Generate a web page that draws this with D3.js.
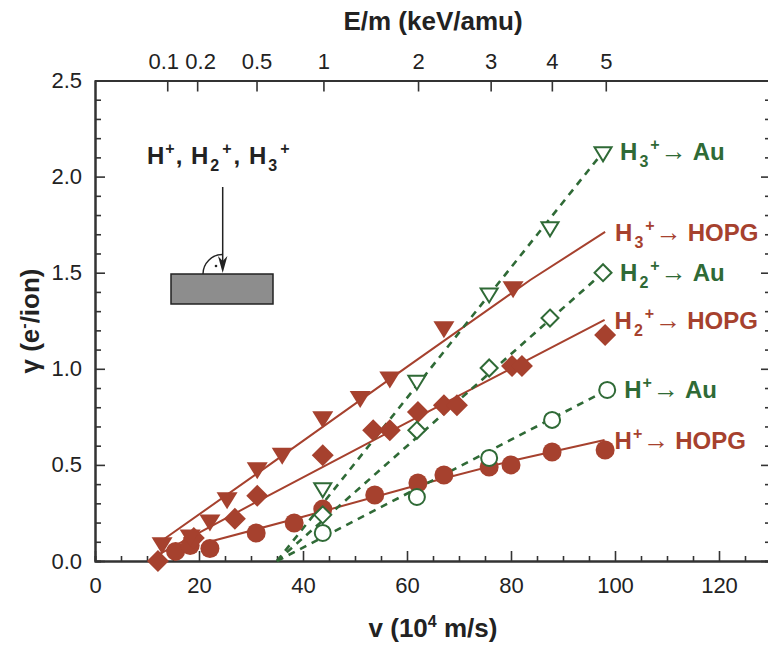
<!DOCTYPE html>
<html lang="en">
<head>
<meta charset="utf-8">
<title>Electron yield</title>
<script src="https://cdn.jsdelivr.net/npm/d3@7"></script>
<style>
  body { margin: 0; background: #fff; }
  svg { display: block; font-family: "Liberation Sans", Arial, sans-serif; }
  .axis path, .axis line { stroke: #333; }
  .axis path { stroke-width: 2; }
  .axis line { stroke-width: 1.6; }
  .axis text { font-size: 22px; fill: #222; }
</style>
</head>
<body>
<svg width="768" height="648"></svg>
<script>
// --- data: [v (10^4 m/s), gamma (e-/ion)] ---
var h1HopgPts = [[15.5,0.05],[18.3,0.08],[22.1,0.065],[31,0.146],[38.3,0.198],[43.8,0.27],[53.8,0.343],[62.1,0.406],[67.1,0.447],[75.8,0.489],[80,0.5],[87.9,0.567],[98.1,0.578]];
var h1HopgFit = [[22,0.10],[40,0.23],[60,0.38],[80,0.52],[98,0.63]];
var h1AuPts = [[43.8,0.146],[61.9,0.333],[75.8,0.536],[87.9,0.734],[98.5,0.89]];
var h1AuFit = [[35,0],[98.5,0.89]];

var h2HopgPts = [[12.1,0.0],[19,0.12],[26.9,0.22],[31.2,0.34],[43.8,0.55],[53.5,0.68],[56.7,0.68],[62.1,0.775],[67.1,0.81],[69.6,0.81],[80.2,1.015],[82.1,1.015],[98.1,1.176]];
var h2HopgFit = [[12,0.03],[31.7,0.317],[60,0.72],[98,1.255]];
var h2AuPts = [[43.8,0.24],[61.9,0.68],[75.8,1.004],[87.5,1.264],[97.7,1.5]];
var h2AuFit = [[35,0],[97.7,1.5]];

var h3HopgPts = [[12.9,0.094],[18.3,0.135],[22.1,0.213],[25.4,0.328],[31.2,0.484],[36,0.56],[43.8,0.75],[51,0.855],[56.7,0.957],[67.1,1.218],[80.4,1.426]];
var h3HopgFit = [[12,0.09],[31.7,0.465],[60,1.01],[83.7,1.462],[98.1,1.712]];
var h3AuPts = [[43.8,0.38],[61.9,0.94],[75.8,1.394],[87.5,1.738],[97.7,2.128]];
var h3AuFit = [[35,0],[97.7,2.128]];

// axis ticks
var vTicks = [0, 20, 40, 60, 80, 100, 120];
var gTicks = [0, 0.5, 1.0, 1.5, 2.0, 2.5];
var eTicks = [0.1, 0.2, 0.5, 1, 2, 3, 4, 5];   // E/m in keV/amu on the top axis

var brown = "#a6412e";
var green = "#2f6a36";

var svg = d3.select("svg");
var x = d3.scaleLinear().domain([0, 130]).range([95, 771]);
var y = d3.scaleLinear().domain([0, 2.5]).range([561, 80.5]);

// v (10^4 m/s) = sqrt(2 E/m) for E/m in keV/amu
function eToV(e) { return Math.sqrt(2 * e * 1.602177e-16 / 1.660539e-27) / 1e4; }

// ---------- axes ----------
var minorV = d3.range(0, 131, 5).filter(function (d) { return d % 20 != 0; });
var minorG = d3.range(0, 2.51, 0.1).filter(function (d) { return Math.abs(d * 2 - Math.round(d * 2)) > 0.01; });

svg.append("g").attr("class", "axis").attr("transform", "translate(0," + y(0) + ")")
    .call(d3.axisBottom(x).tickValues(minorV).tickSize(-5).tickFormat(""));
svg.append("g").attr("class", "axis").attr("transform", "translate(0," + y(0) + ")")
    .call(d3.axisBottom(x).tickValues(vTicks).tickSize(-10).tickSizeOuter(0).tickPadding(16).tickFormat(d3.format("d")));

svg.append("g").attr("class", "axis").attr("transform", "translate(" + x(0) + ",0)")
    .call(d3.axisLeft(y).tickValues(minorG).tickSize(-6).tickFormat(""));
svg.append("g").attr("class", "axis").attr("transform", "translate(" + x(0) + ",0)")
    .call(d3.axisLeft(y).tickValues(gTicks).tickSize(-10).tickSizeOuter(0).tickPadding(13).tickFormat(d3.format(".1f")));

svg.append("g").attr("class", "axis").attr("transform", "translate(" + x(130) + ",0)")
    .call(d3.axisRight(y).tickValues(minorG).tickSize(-6).tickFormat(""));
svg.append("g").attr("class", "axis").attr("transform", "translate(" + x(130) + ",0)")
    .call(d3.axisRight(y).tickValues(gTicks).tickSize(-10).tickSizeOuter(0).tickFormat(""));

var topAxis = svg.append("g").attr("class", "axis").attr("transform", "translate(0," + y(2.5) + ")")
    .call(d3.axisTop(x).tickValues(eTicks.map(eToV)).tickSize(-11).tickSizeOuter(0).tickPadding(12)
        .tickFormat(function (d, i) { return eTicks[i]; }));
// nudge the two crowded labels apart
topAxis.selectAll(".tick text").attr("dx", function (d, i) { return i == 0 ? -4 : (i == 1 ? 3 : 0); });

// axis titles
svg.append("text").attr("x", 433).attr("y", 30).attr("text-anchor", "middle")
    .style("font-size", "26px").style("font-weight", "bold").attr("fill", "#222").text("E/m (keV/amu)");

var xt = svg.append("text").attr("x", 433).attr("y", 637).attr("text-anchor", "middle")
    .style("font-size", "26px").style("font-weight", "bold").attr("fill", "#222");
xt.append("tspan").text("v (10");
xt.append("tspan").attr("dy", -10).style("font-size", "16px").text("4");
xt.append("tspan").attr("dy", 10).text(" m/s)");

var yt = svg.append("text").attr("transform", "translate(39,321) rotate(-90)").attr("text-anchor", "middle")
    .style("font-size", "26px").style("font-weight", "bold").attr("fill", "#222");
yt.append("tspan").text("γ (e");
yt.append("tspan").attr("dy", -10).style("font-size", "16px").text("-");
yt.append("tspan").attr("dy", 10).text("/ion)");

// ---------- inset sketch ----------
var inset = svg.append("g");
var it = inset.append("text").attr("x", 147).attr("y", 164)
    .style("font-size", "24px").style("font-weight", "bold").style("letter-spacing", "1px").attr("fill", "#222");
it.append("tspan").text("H");
it.append("tspan").attr("dy", -10).style("font-size", "16px").text("+");
it.append("tspan").attr("dy", 10).text(", H");
it.append("tspan").attr("dy", 7).attr("dx", 1).style("font-size", "16px").text("2");
it.append("tspan").attr("dy", -17).attr("dx", 2).style("font-size", "16px").text("+");
it.append("tspan").attr("dy", 10).attr("dx", 1).text(", H");
it.append("tspan").attr("dy", 7).attr("dx", 1).style("font-size", "16px").text("3");
it.append("tspan").attr("dy", -17).attr("dx", 2).style("font-size", "16px").text("+");

inset.append("rect").attr("x", 171).attr("y", 274).attr("width", 102).attr("height", 30)
    .attr("fill", "#8d8d8d").attr("stroke", "#222").attr("stroke-width", 1.5);
inset.append("line").attr("x1", 222.7).attr("x2", 222.7).attr("y1", 187).attr("y2", 268)
    .attr("stroke", "#222").attr("stroke-width", 1.5);
inset.append("path").attr("d", "M218,256 L222.7,273 L227.4,256 L222.7,261 Z").attr("fill", "#222");
inset.append("path").attr("d", "M203,274 A19.5,19.5 0 0 1 222.7,254.5")
    .attr("fill", "none").attr("stroke", "#222").attr("stroke-width", 1.4);
inset.append("circle").attr("cx", 216).attr("cy", 266).attr("r", 1.3).attr("fill", "#222");

// ---------- series ----------
var line = d3.line().x(function (d) { return x(d[0]); }).y(function (d) { return y(d[1]); });

function downTri(w, h) {
    return "M" + (-w / 2) + "," + (-h / 3) + "L" + (w / 2) + "," + (-h / 3) + "L0," + (2 * h / 3) + "Z";
}
function diamond(r) {
    return "M0," + (-r) + "L" + r + ",0L0," + r + "L" + (-r) + ",0Z";
}
function circ(r) {
    return "M" + (-r) + ",0A" + r + "," + r + " 0 1 0 " + r + ",0A" + r + "," + r + " 0 1 0 " + (-r) + ",0Z";
}

var series = [
    { pts: h1HopgPts, fit: h1HopgFit, open: false, shape: circ(9.5), n: "", tgt: "HOPG" },
    { pts: h2HopgPts, fit: h2HopgFit, open: false, shape: diamond(11), n: "2", tgt: "HOPG" },
    { pts: h3HopgPts, fit: h3HopgFit, open: false, shape: downTri(21, 17), n: "3", tgt: "HOPG" },
    { pts: h1AuPts, fit: h1AuFit, open: true, shape: circ(8), n: "", tgt: "Au" },
    { pts: h2AuPts, fit: h2AuFit, open: true, shape: diamond(8.5), n: "2", tgt: "Au" },
    { pts: h3AuPts, fit: h3AuFit, open: true, shape: downTri(17, 14), n: "3", tgt: "Au" }
];

series.forEach(function (s) {
    svg.append("path").datum(s.fit).attr("d", line).attr("fill", "none")
        .attr("stroke", s.open ? green : brown)
        .attr("stroke-width", s.open ? 2.6 : 2)
        .attr("stroke-dasharray", s.open ? "7,6" : null);
});

series.forEach(function (s) {
    svg.append("g").selectAll("path").data(s.pts).enter().append("path")
        .attr("transform", function (d) { return "translate(" + x(d[0]) + "," + y(d[1]) + ")"; })
        .attr("d", s.shape)
        .attr("fill", s.open ? "#fff" : brown)
        .attr("stroke", s.open ? green : "none")
        .attr("stroke-width", 2);
});

// end-of-line labels
series.forEach(function (s) {
    var col = s.open ? green : brown;
    var last = s.open ? s.pts[s.pts.length - 1] : s.fit[s.fit.length - 1];
    var lx = s.open ? x(last[0]) + 17 : x(last[0]) + 10;
    var ly = y(last[1]) + (s.open ? 8 : 9);
    var t = svg.append("text").attr("x", lx).attr("y", ly)
        .style("font-size", "24px").style("font-weight", "bold").attr("fill", col);
    t.append("tspan").text("H");
    if (s.n) {
        t.append("tspan").attr("dy", 7).attr("dx", 2).style("font-size", "16px").text(s.n);
        t.append("tspan").attr("dy", -17).attr("dx", 2).style("font-size", "16px").text("+");
    } else {
        t.append("tspan").attr("dy", -10).attr("dx", 1).style("font-size", "16px").text("+");
    }
    t.append("tspan").attr("dy", 10).attr("dx", 1).style("font-size", "26px").text("\u2192");
    t.append("tspan").attr("dx", 6).text(s.tgt);
});
</script>
</body>
</html>
